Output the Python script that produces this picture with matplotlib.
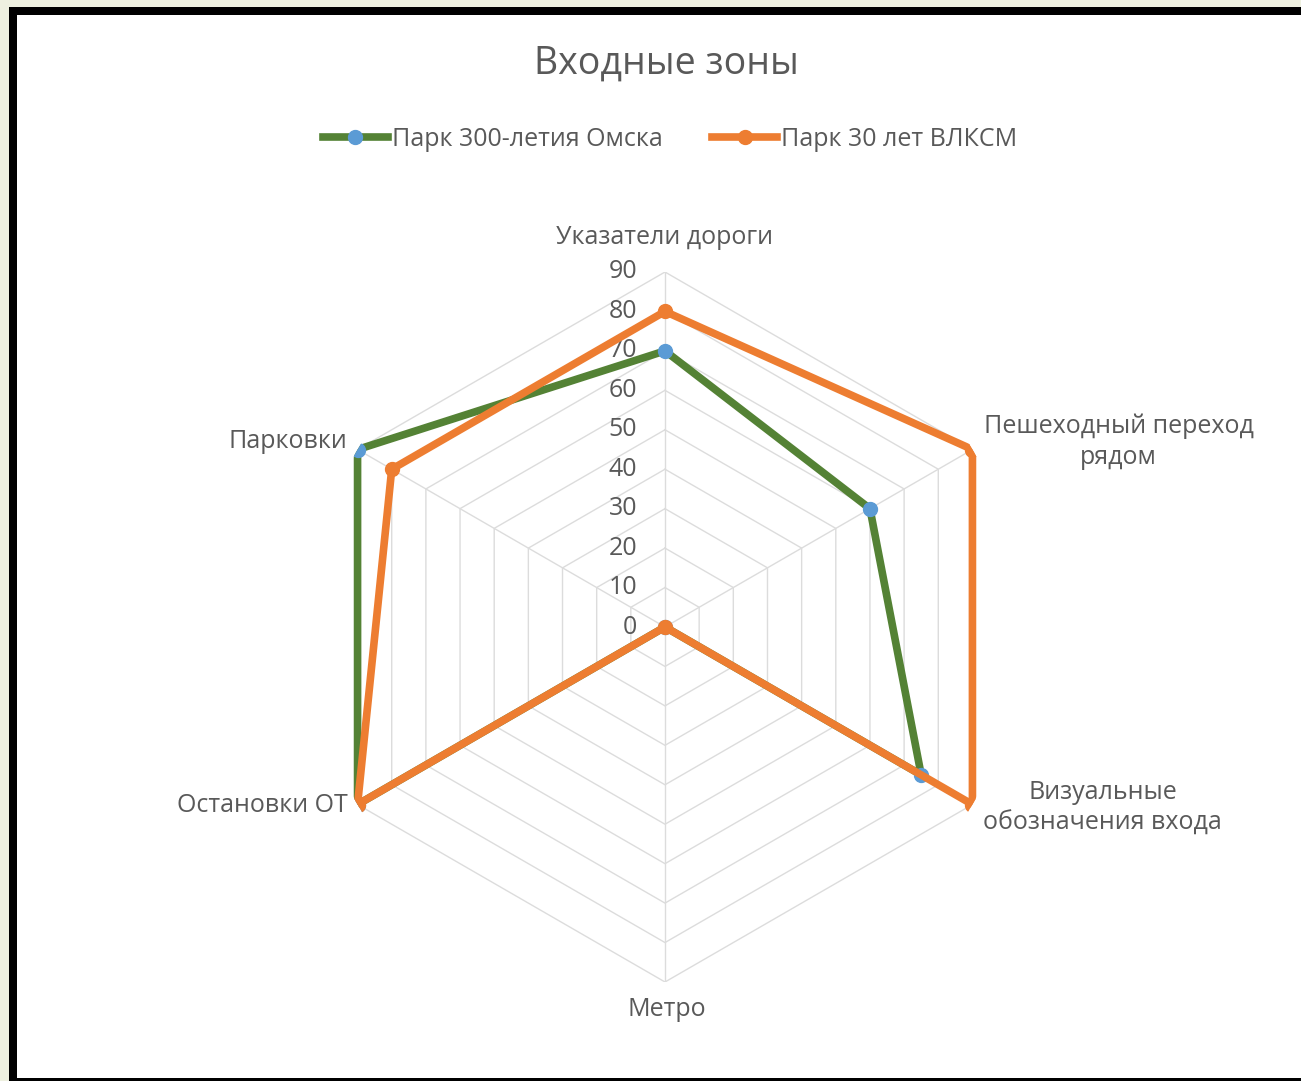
import numpy as np
import matplotlib
matplotlib.use("Agg")
import matplotlib.pyplot as plt
from matplotlib.patches import Rectangle

plt.rcParams['font.family'] = ['Open Sans', 'DejaVu Sans']

# данные
categories = ["Указатели дороги", "Пешеходный переход\nрядом", "Визуальные\nобозначения входа",
              "Метро", "Остановки ОТ", "Парковки"]
park_300 = [70, 60, 75, 0, 90, 90]
park_vlksm = [80, 90, 90, 0, 90, 80]
series_names = ["Парк 300-летия Омска", "Парк 30 лет ВЛКСМ"]
levels = [0, 10, 20, 30, 40, 50, 60, 70, 80, 90]

W, H = 1301, 1081
fig = plt.figure(figsize=(W / 100, H / 100), dpi=100)
fig.patch.set_facecolor("#eef0e0")

# рамка слайда
fig.patches.append(Rectangle((9 / W, 0), 1, 1 - 7 / H, transform=fig.transFigure,
                             facecolor="black", edgecolor="none", zorder=-2))
fig.patches.append(Rectangle((17 / W, 3 / H), 1, 1 - 18 / H, transform=fig.transFigure,
                             facecolor="white", edgecolor="none", zorder=-1))

cx, cy, R = 665, H - 627, 355
ax = fig.add_axes([(cx - R) / W, (cy - R) / H, 2 * R / W, 2 * R / H], projection="polar")
ax.set_facecolor("none")
ax.set_theta_offset(np.pi / 2)
ax.set_theta_direction(-1)
ax.set_ylim(0, 90)
ax.grid(False)
ax.spines["polar"].set_visible(False)
ax.set_xticks([])
ax.set_yticks([])

n = len(categories)
theta = np.linspace(0, 2 * np.pi, n, endpoint=False)
theta_c = np.append(theta, theta[0])

grid_col = "#dcdcdc"
for lv in levels[1:]:
    ax.plot(theta_c, [lv] * (n + 1), color=grid_col, lw=1, zorder=1)
for t in theta:
    ax.plot([t, t], [0, 90], color=grid_col, lw=1, zorder=1)

text_col = "#595959"
fs = 18
for lv in levels:
    ax.annotate(str(lv), xy=(0, lv), xytext=(-28, 0), textcoords="offset pixels",
                ha="right", va="center", fontsize=fs, color=text_col)

green, orange, blue = "#548235", "#ed7d31", "#5b9bd5"
v1 = park_300 + park_300[:1]
v2 = park_vlksm + park_vlksm[:1]
ax.plot(theta_c, v1, color=green, lw=5.5, solid_joinstyle="round",
        solid_capstyle="round", zorder=3)
ax.plot(theta_c, v2, color=orange, lw=5.5, solid_joinstyle="round",
        solid_capstyle="round", zorder=4)
ax.plot(theta, park_300, ls="none", marker="o", markersize=10, color=blue, zorder=3.5)
ax.plot(theta, park_vlksm, ls="none", marker="o", markersize=10, color=orange, zorder=4.5)

# легенда: линия с маркером посередине
ax.plot([], [], color=green, lw=5.5, marker="o", markersize=10,
        markerfacecolor=blue, markeredgecolor=blue, label=series_names[0])
ax.plot([], [], color=orange, lw=5.5, marker="o", markersize=10,
        markerfacecolor=orange, markeredgecolor=orange, label=series_names[1])

# подписи категорий
offs = [(0, 34, "center"), (146, 8, "center"), (130, -3, "center"),
        (2, -28, "center"), (-10, -1, "right"), (-10, 8, "right")]
for t, lab, (dx, dy, ha) in zip(theta, categories, offs):
    ax.annotate(lab, xy=(t, 90), xytext=(dx, dy), textcoords="offset pixels",
                ha=ha, va="center", fontsize=fs, color=text_col, linespacing=1.3,
                annotation_clip=False)

fig.text(666 / W, 1 - 64 / H, "Входные зоны", ha="center", va="center",
         fontsize=27, color=text_col)

fig.legend(loc="center", bbox_to_anchor=(670 / W, 1 - 139 / H), ncol=2, frameon=False,
           fontsize=fs, handlelength=2.6, columnspacing=2, handletextpad=0.15,
           labelcolor=text_col)

fig.savefig("out.png", dpi=100, facecolor=fig.get_facecolor())
